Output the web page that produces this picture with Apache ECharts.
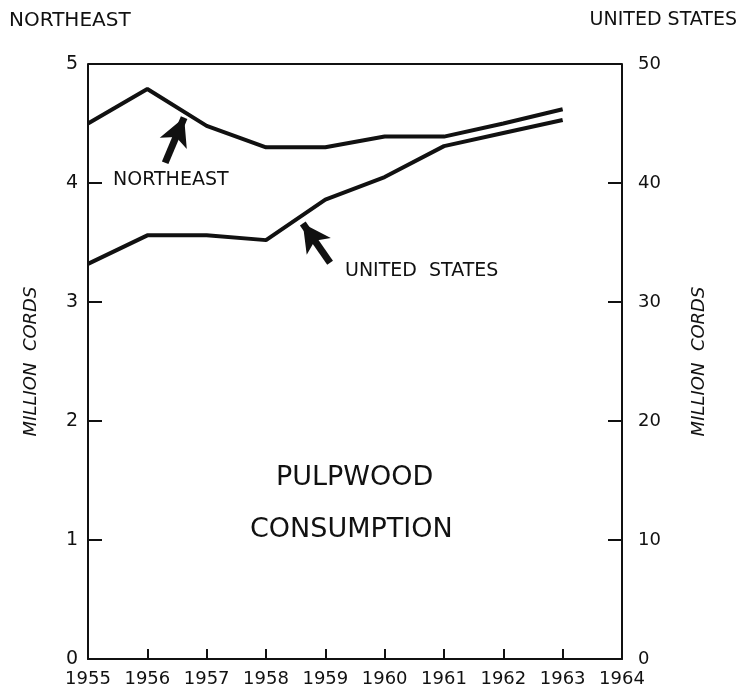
<!DOCTYPE html>
<html>
<head>
<meta charset="utf-8">
<script src="https://cdn.jsdelivr.net/npm/echarts@6/dist/echarts.min.js"></script>
<style>html,body{margin:0;padding:0;background:#fff}#c{width:747px;height:689px}</style>
</head>
<body>
<div id="c"></div>
<script>
// 纸浆材消费量，东北部（左轴）与全美（右轴）
const years = [1955, 1956, 1957, 1958, 1959, 1960, 1961, 1962, 1963];
const northeast = [4.5, 4.79, 4.48, 4.3, 4.3, 4.39, 4.39, 4.5, 4.62];
const unitedStates = [33.2, 35.6, 35.6, 35.2, 38.6, 40.5, 43.1, 44.2, 45.3];
const xTicks = [1955, 1956, 1957, 1958, 1959, 1960, 1961, 1962, 1963, 1964];

const font = 'DejaVu Sans';
const chart = echarts.init(document.getElementById('c'));
chart.setOption({
  animation: false,
  backgroundColor: '#fff',
  grid: {left: 88, right: 125, top: 64, bottom: 30},
  title: [
    {text: 'NORTHEAST', left: 4, top: 6, textStyle: {fontFamily: font, fontWeight: 'normal', fontSize: 20, color: '#111'}},
    {text: 'UNITED STATES', right: 5, top: 6, textStyle: {fontFamily: font, fontWeight: 'normal', fontSize: 19, color: '#111'}}
  ],
  xAxis: {
    type: 'value', min: 1955, max: 1964, interval: 1,
    axisLine: {lineStyle: {color: '#111', width: 2}},
    axisTick: {inside: true, length: 10, lineStyle: {color: '#111', width: 2}},
    axisLabel: {color: '#111', fontFamily: font, fontSize: 18, margin: 11, formatter: v => String(v)},
    splitLine: {show: false}
  },
  yAxis: [
    {
      type: 'value', min: 0, max: 5, interval: 1, position: 'left',
      name: 'MILLION  CORDS', nameLocation: 'middle', nameGap: 48, nameRotate: 90,
      nameTextStyle: {fontFamily: font, fontStyle: 'italic', fontSize: 18, color: '#111'},
      axisLine: {show: true, lineStyle: {color: '#111', width: 2}},
      axisTick: {show: true, inside: true, length: 14, lineStyle: {color: '#111', width: 2}},
      axisLabel: {color: '#111', fontFamily: font, fontSize: 19, margin: 10},
      splitLine: {show: false}
    },
    {
      type: 'value', min: 0, max: 50, interval: 10, position: 'right',
      name: 'MILLION  CORDS', nameLocation: 'middle', nameGap: 68, nameRotate: 90,
      nameTextStyle: {fontFamily: font, fontStyle: 'italic', fontSize: 18, color: '#111'},
      axisLine: {show: true, lineStyle: {color: '#111', width: 2}},
      axisTick: {show: true, inside: true, length: 14, lineStyle: {color: '#111', width: 2}},
      axisLabel: {color: '#111', fontFamily: font, fontSize: 18, margin: 16},
      splitLine: {show: false}
    }
  ],
  graphic: [
    {type: 'line', shape: {x1: 88, y1: 64, x2: 622, y2: 64}, style: {stroke: '#111', lineWidth: 2}},
    {type: 'text', left: 113, top: 171, style: {text: 'NORTHEAST', font: '19px "DejaVu Sans"', fill: '#111'}},
    {type: 'text', left: 345, top: 262, style: {text: 'UNITED  STATES', font: '19px "DejaVu Sans"', fill: '#111'}},
    {type: 'text', left: 276, top: 464, style: {text: 'PULPWOOD', font: '27px "DejaVu Sans"', fill: '#111'}},
    {type: 'text', left: 250, top: 516, style: {text: 'CONSUMPTION', font: '27px "DejaVu Sans"', fill: '#111'}}
  ],
  series: [
    {
      name: 'Northeast', type: 'line', yAxisIndex: 0, symbol: 'none',
      lineStyle: {color: '#111', width: 4},
      data: years.map((y, i) => [y, northeast[i]]),
      markLine: {
        silent: true, symbol: ['none', 'arrow'], symbolSize: [22, 28],
        lineStyle: {color: '#111', width: 7, type: 'solid'}, label: {show: false},
        data: [[{coord: [1956.3, 4.17]}, {coord: [1956.62, 4.55]}]]
      }
    },
    {
      name: 'United States', type: 'line', yAxisIndex: 1, symbol: 'none',
      lineStyle: {color: '#111', width: 4},
      data: years.map((y, i) => [y, unitedStates[i]]),
      markLine: {
        silent: true, symbol: ['none', 'arrow'], symbolSize: [22, 28],
        lineStyle: {color: '#111', width: 7, type: 'solid'}, label: {show: false},
        data: [[{coord: [1959.08, 33.3]}, {coord: [1958.62, 36.6]}]]
      }
    }
  ]
});
</script>
</body>
</html>
